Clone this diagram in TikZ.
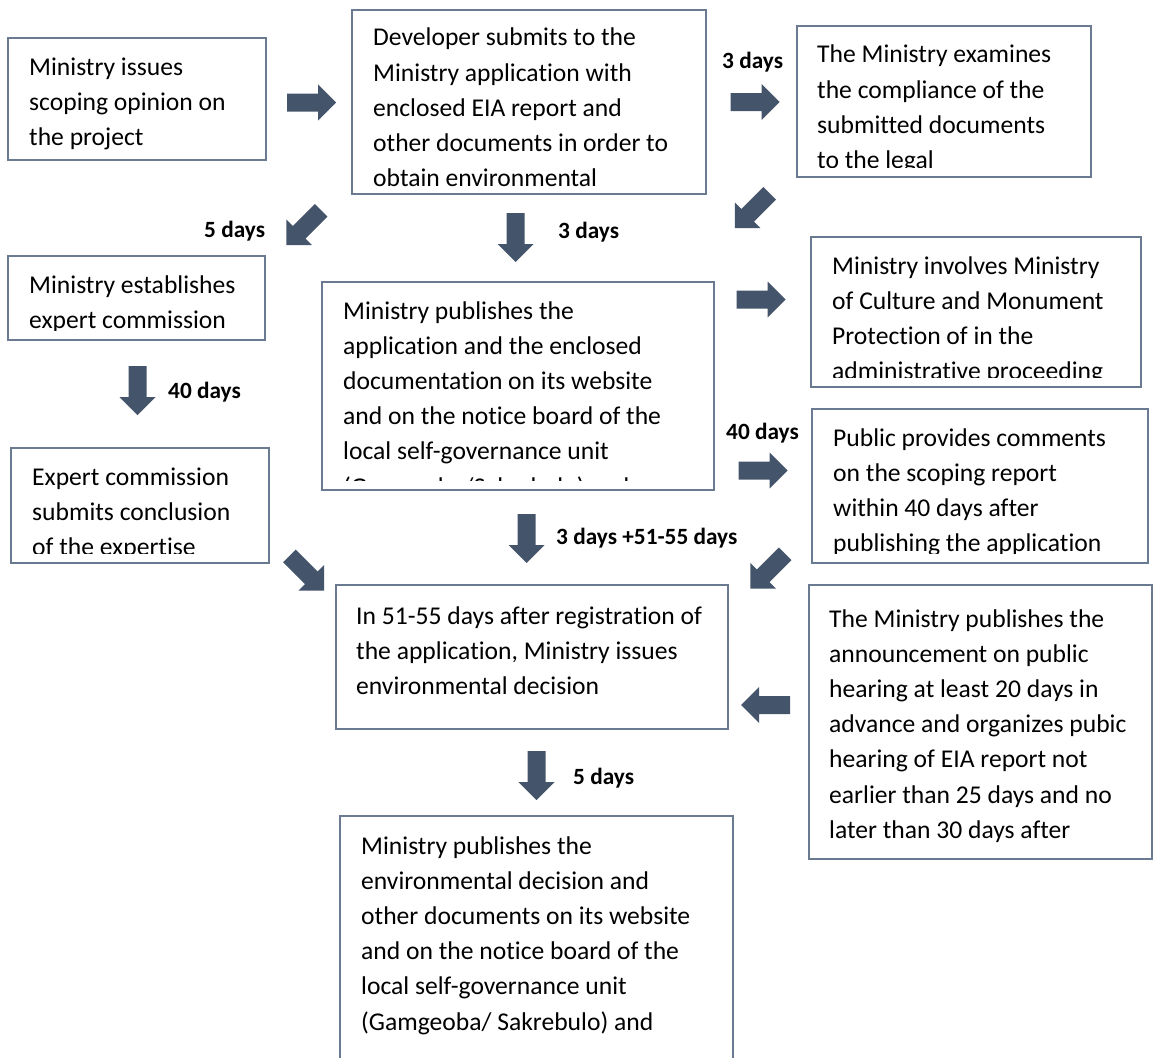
\documentclass[tikz,border=0pt]{standalone}
\usepackage{fontspec}
\setmainfont{Carlito}[Ligatures=NoCommon]
\definecolor{arrowc}{HTML}{44546A}
\definecolor{boxc}{HTML}{6A7A90}
\tikzset{
  x=1pt, y=-1pt,
  boxframe/.style={draw=boxc, line width=1.3pt, fill=white},
  boxtext/.style={anchor=base west, inner sep=0pt, text=black},
  daylabel/.style={anchor=west, inner sep=0pt, font=\fontsize{23.3}{26}\selectfont\bfseries, text=black},
}
\newcommand{\boxlines}[1]{\parbox[t]{14cm}{\raggedright\fontsize{25.6}{35.2}\selectfont #1}}
\newcommand{\barr}[3]{\fill[arrowc, shift={(#1,#2)}, rotate=#3] (-24.5,-9) -- (6.5,-9) -- (6.5,-18) -- (24.5,0) -- (6.5,18) -- (6.5,9) -- (-24.5,9) -- cycle;}
\def\clipm{10}
% box: name, x1, y1, x2, y2, text x, first baseline, text
\newcommand{\tbox}[8]{%
  \draw[boxframe] (#2,#3) rectangle (#4,#5);
  \coordinate (#1) at ({(#2+#4)/2},{(#3+#5)/2});
  \begin{scope}
    \clip (#2,#3) rectangle (#4,{#5-\clipm});
    \node[boxtext] (#1-text) at (#6,#7) {\boxlines{#8}};
  \end{scope}}
\begin{document}
\begin{tikzpicture}
\clip (0,0) rectangle (1153,1057);
\fill[white] (0,0) rectangle (1153,1057);

\tbox{A}{8}{38}{266}{160}{29}{75}{Ministry issues\\scoping opinion on\\the project}
\def\clipm{1}
\tbox{B}{352}{10}{706}{194}{373}{46}{Developer submits to the\\Ministry application with\\enclosed EIA report and\\other documents in order to\\obtain environmental}
\def\clipm{10}
\tbox{C}{797}{26}{1091}{177}{817}{63}{The Ministry examines\\the compliance of the\\submitted documents\\to the legal}
\tbox{D}{8}{256}{265}{340}{29}{293}{Ministry establishes\\expert commission}
\tbox{E}{322}{282}{714}{490}{343}{319}{Ministry publishes the\\application and the enclosed\\documentation on its website\\and on the notice board of the\\local self-governance unit\\(Gamgeoba/Sakrebulo) and}
\tbox{F}{811}{237}{1141}{387}{832}{274}{Ministry involves Ministry\\of Culture and Monument\\Protection of in the\\administrative proceeding}
\tbox{G}{11}{448}{269}{563}{32}{485}{Expert commission\\submits conclusion\\of the expertise}
\tbox{H}{812}{409}{1148}{563}{833}{446}{Public provides comments\\on the scoping report\\within 40 days after\\publishing the application}
\tbox{I}{336}{585}{728}{729}{356}{624}{In 51-55 days after registration of\\the application, Ministry issues\\environmental decision}
\tbox{J}{809}{585}{1152}{859}{829}{627}{The Ministry publishes the\\announcement on public\\hearing at least 20 days in\\advance and organizes pubic\\hearing of EIA report not\\earlier than 25 days and no\\later than 30 days after}
\tbox{K}{340}{816}{733}{1070}{361}{854}{Ministry publishes the\\environmental decision and\\other documents on its website\\and on the notice board of the\\local self-governance unit\\(Gamgeoba/ Sakrebulo) and}

% block arrows
\barr{311.5}{102.5}{0}
\barr{755}{102}{0}
\barr{303.8}{227.7}{225}
\barr{515.5}{237.5}{-90}
\barr{752.3}{210.7}{225}
\barr{761}{299.5}{0}
\barr{137.5}{390.5}{-90}
\barr{763}{470.5}{0}
\barr{526.5}{538.5}{-90}
\barr{306.7}{573.2}{-45}
\barr{767.8}{571.2}{225}
\barr{765.5}{705}{180}
\barr{536.5}{775.5}{-90}

% day labels
\node[daylabel] (l1) at (722,62) {3 days};
\node[daylabel] (l2) at (204,231) {5 days};
\node[daylabel] (l3) at (558,232) {3 days};
\node[daylabel] (l4) at (168,392) {40 days};
\node[daylabel] (l5) at (726,433) {40 days};
\node[daylabel] (l6) at (556,538) {3 days +51-55 days};
\node[daylabel] (l7) at (573,778) {5 days};
\end{tikzpicture}
\end{document}
